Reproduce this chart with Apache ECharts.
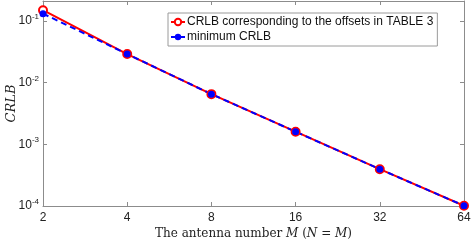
<!DOCTYPE html>
<html>
<head>
<meta charset="utf-8">
<script src="https://cdn.jsdelivr.net/npm/echarts@6/dist/echarts.min.js"></script>
<style>html,body{margin:0;padding:0;background:#fff}#c{width:471px;height:242px}</style>
</head>
<body>
<div id="c"></div>
<script>
var antennas = [2, 4, 8, 16, 32, 64];
var crlbOffsets = [0.149, 0.029, 0.0065, 0.0016, 0.000395, 0.000101];
var crlbMin = [0.131, 0.029, 0.0065, 0.0016, 0.000395, 0.000101];
var xTicks = [2, 4, 8, 16, 32, 64];
var yTicks = [1e-4, 1e-3, 1e-2, 1e-1];
var legendNames = ['CRLB corresponding to the offsets in TABLE 3', 'minimum CRLB'];

function pairs(xs, ys) { return xs.map(function (x, i) { return [x, ys[i]]; }); }
function isPow(v, base) {
  var e = Math.log(v) / Math.log(base);
  return Math.abs(e - Math.round(e)) < 1e-6 ? Math.round(e) : null;
}
var axisColor = '#8c8c8c';
var chart = echarts.init(document.getElementById('c'));
chart.setOption({
  animation: false,
  grid: { left: 43, right: 7, top: 1, bottom: 36, outerBoundsMode: 'none', containLabel: false },
  legend: {
    orient: 'vertical', left: 168, top: 13, width: 270,
    itemWidth: 14, itemHeight: 8, itemGap: 3,
    padding: [3, 4, 3, 2],
    borderColor: '#9a9a9a', borderWidth: 1, backgroundColor: '#fff',
    textStyle: { fontFamily: 'Liberation Sans', fontSize: 12, color: '#111', padding: [0, 0, 0, -3] },
    data: legendNames
  },
  xAxis: [{
    type: 'log', logBase: 2, min: 2, max: 64, interval: 1,
    axisLine: { lineStyle: { color: axisColor } },
    axisTick: { inside: true, length: 4, lineStyle: { color: axisColor } },
    splitLine: { show: false },
    axisLabel: {
      fontFamily: 'Liberation Sans', fontSize: 12, color: '#222', margin: 6,
      formatter: function (v) { var e = isPow(v, 2); return e === null ? '' : String(Math.round(v)); }
    },
    name: '{r|The antenna number }{i|M}{r| (}{i|N}{r| = }{i|M}{r|)}',
    nameLocation: 'middle', nameGap: 22, nameMoveOverlap: false,
    nameTextStyle: {
      rich: {
        r: { fontFamily: 'DejaVu Serif', fontSize: 12, color: '#222' },
        i: { fontFamily: 'DejaVu Serif', fontStyle: 'italic', fontSize: 12, color: '#222' }
      }
    }
  }, {
    type: 'log', logBase: 2, min: 2, max: 64, interval: 1, position: 'top',
    axisLine: { lineStyle: { color: axisColor } },
    axisTick: { inside: true, length: 4, lineStyle: { color: axisColor } },
    axisLabel: { show: false }, splitLine: { show: false }
  }],
  yAxis: [{
    type: 'log', logBase: 10, min: 1e-4, max: 0.21, interval: 1,
    axisLine: { show: true, lineStyle: { color: axisColor } },
    axisTick: { show: true, inside: true, length: 4, lineStyle: { color: axisColor } },
    splitLine: { show: false },
    axisLabel: {
      showMaxLabel: false, margin: 4,
      formatter: function (v) { var e = isPow(v, 10); return e === null ? '' : '{b|10}{s|' + e + '}'; },
      rich: {
        b: { fontFamily: 'Liberation Sans', fontSize: 12, color: '#222' },
        s: { fontFamily: 'Liberation Sans', fontSize: 8, color: '#222', verticalAlign: 'bottom', padding: [0, 0, 8, 0] }
      }
    },
    name: 'CRLB', nameLocation: 'middle', nameGap: 25, nameRotate: 90, nameMoveOverlap: false,
    nameTextStyle: { fontFamily: 'DejaVu Serif', fontStyle: 'italic', fontSize: 13, color: '#222' }
  }, {
    type: 'log', logBase: 10, min: 1e-4, max: 0.21, interval: 1, position: 'right',
    axisLine: { show: true, lineStyle: { color: axisColor } },
    axisTick: { show: true, inside: true, length: 4, lineStyle: { color: axisColor } },
    axisLabel: { show: false }, splitLine: { show: false }
  }],
  series: [{
    name: legendNames[0], type: 'line', data: pairs(antennas, crlbOffsets),
    symbol: 'emptyCircle', symbolSize: 8,
    lineStyle: { color: '#ff0000', width: 2 },
    itemStyle: { color: '#ff0000', borderWidth: 1.6 }
  }, {
    name: legendNames[1], type: 'line', data: pairs(antennas, crlbMin),
    symbol: 'circle', symbolSize: 7,
    lineStyle: { color: '#0000ff', width: 2, type: [6, 4] },
    itemStyle: { color: '#0000ff' }
  }]
});
</script>
</body>
</html>
